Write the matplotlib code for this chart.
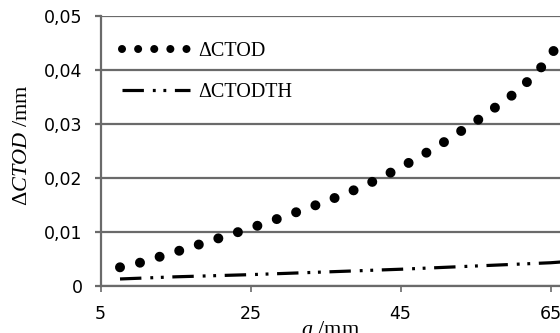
import matplotlib
matplotlib.use("Agg")
import matplotlib.pyplot as plt
from matplotlib.lines import Line2D

# ---- data ----
a_ctod = [7.6, 10, 15, 20, 25, 30, 35, 40, 45, 50, 55, 60, 62, 64, 66, 67]
ctod = [0.00346, 0.0042, 0.0063, 0.0085, 0.0107, 0.0131, 0.0156, 0.0184,
        0.0219, 0.0259, 0.0304, 0.0354, 0.0379, 0.0408, 0.0446, 0.0466]
a_th = [7.6, 15, 25, 35, 45, 55, 65, 67]
ctod_th = [0.0013, 0.0017, 0.0021, 0.0026, 0.0031, 0.0037, 0.0043, 0.0045]
x_ticks = [5, 25, 45, 65]
y_ticks = [0, 0.01, 0.02, 0.03, 0.04, 0.05]
y_ticklabels = ["0", "0,01", "0,02", "0,03", "0,04", "0,05"]
labels = ["\u0394CTOD", "\u0394CTODTH"]

plt.rcParams['mathtext.fontset'] = 'custom'
plt.rcParams['mathtext.rm'] = 'Liberation Serif'
plt.rcParams['mathtext.it'] = 'Liberation Serif:italic'

W, H = 560, 333
fig = plt.figure(figsize=(W / 100, H / 100), dpi=100)
ax = fig.add_axes([100.5 / W, 47 / H, (W - 100.5) / W, 270.3 / H])

grid_c = '#6a6a6a'
ax.set_xlim(5, 5 + (W - 100.5) / 7.5)
ax.set_ylim(0, 0.05)

ax.plot(a_ctod, ctod, color='black', lw=7.2, linestyle=(0, (0.001, 2.05)),
        dash_capstyle='round', solid_capstyle='round', zorder=3)
ax.plot(a_th, ctod_th, color='black', lw=2.3,
        linestyle=(0, (6.7, 2.8, 0.9, 2.4, 0.9, 2.7)), dash_capstyle='butt',
        zorder=3)

ax.set_yticks(y_ticks)
ax.set_yticklabels(y_ticklabels)
ax.set_xticks(x_ticks)
ax.grid(axis='y', color=grid_c, lw=1.6)
ax.set_axisbelow(True)
for s in ['top', 'right']:
    ax.spines[s].set_visible(False)
for s in ['left', 'bottom']:
    ax.spines[s].set_color(grid_c)
    ax.spines[s].set_linewidth(1.6)
ax.tick_params(axis='y', direction='out', length=4.5, width=1.6, color=grid_c,
               pad=8.5, labelsize=12.5)
ax.tick_params(axis='x', direction='out', length=4, width=1.2, color=grid_c,
               pad=9.5, labelsize=12.5)
for t in ax.get_xticklabels() + ax.get_yticklabels():
    t.set_fontfamily('DejaVu Sans')

ax.set_ylabel(r'$\Delta\mathit{CTOD}$ /mm', fontsize=16,
              family='Liberation Serif')
ax.yaxis.set_label_coords(-0.148, 0.522)
ax.set_xlabel(r'$\mathit{a}$ /mm', fontsize=16, labelpad=-1,
              family='Liberation Serif')

h1 = Line2D([], [], color='black', lw=5.8, linestyle=(0, (0.001, 2.0)),
            dash_capstyle='round')
h2 = Line2D([], [], color='black', lw=2.3,
            linestyle=(0, (6.7, 2.8, 0.9, 2.4, 0.9, 2.7)), dash_capstyle='butt')
leg = ax.legend([h1, h2], labels, loc='upper left', frameon=False,
                bbox_to_anchor=(0.007, 0.97), handlelength=3.4,
                handletextpad=0.4, labelspacing=1.1,
                prop={'family': 'Liberation Serif', 'size': 14.5})

fig.savefig('out.png', dpi=100)
